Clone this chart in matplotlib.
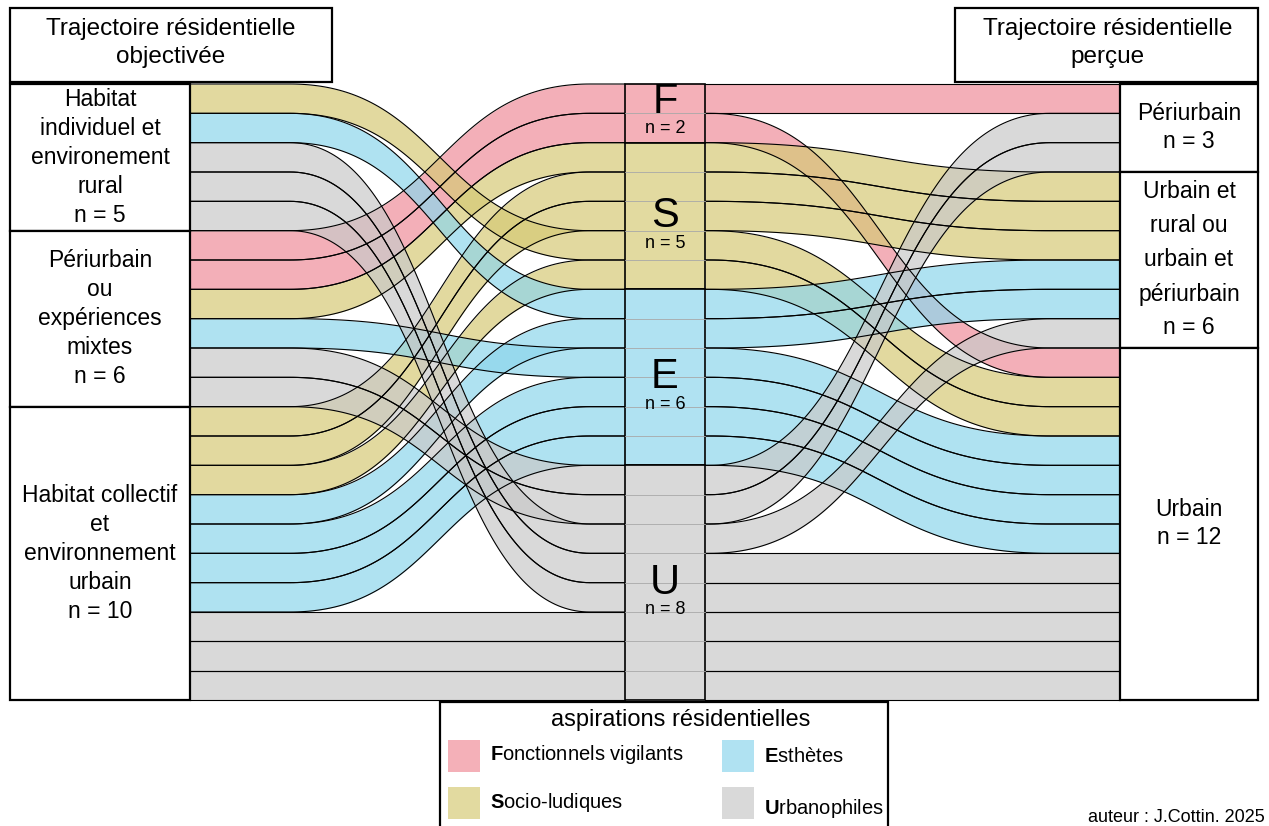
import numpy as np
import matplotlib.pyplot as plt
from matplotlib.patches import Rectangle
from matplotlib.colors import to_rgb

plt.rcParams['font.family'] = ['Liberation Sans', 'DejaVu Sans']
plt.rcParams['mathtext.fontset'] = 'custom'
plt.rcParams['mathtext.rm'] = 'Liberation Sans'
plt.rcParams['mathtext.bf'] = 'Liberation Sans:bold'

# ---- data ----
left_title = "Trajectoire résidentielle\nobjectivée"
right_title = "Trajectoire résidentielle\nperçue"
left_labels = ["Habitat\nindividuel et\nenvironement\nrural",
               "Périurbain\nou\nexpériences\nmixtes",
               "Habitat collectif\net\nenvironnement\nurbain"]
right_labels = ["Périurbain",
                "Urbain et\nrural ou\nurbain et\npériurbain",
                "Urbain"]
asp_codes = ["F", "S", "E", "U"]
asp_names = ["Fonctionnels vigilants", "Socio-ludiques", "Esthètes", "Urbanophiles"]
asp_colors = ["#F4B0B8", "#E2DAA0", "#B0E2F2", "#D9D9D9"]
legend_title = "aspirations résidentielles"
credit = "auteur : J.Cottin. 2025"

# one entry per person: left group, aspiration, right group
ind_asp   = [0, 0,  1, 1, 1, 1, 1,  2, 2, 2, 2, 2, 2,  3, 3, 3, 3, 3, 3, 3, 3]
ind_left  = [1, 1,  0, 1, 2, 2, 2,  0, 1, 2, 2, 2, 2,  1, 1, 0, 0, 0, 2, 2, 2]
ind_right = [0, 2,  2, 1, 1, 1, 2,  1, 2, 1, 2, 2, 2,  0, 0, 1, 2, 2, 2, 2, 2]

# ---- layout ----
TOP, BOT = 84, 700
N = len(ind_asp)
H = (BOT - TOP) / N
ALPHA = 0.7
LB = (10, 190)      # left boxes
MB = (625, 705)     # middle column
RB = (1120, 1258)   # right boxes

idx = range(N)
mid_order = sorted(idx, key=lambda i: (ind_asp[i], ind_right[i], ind_left[i], i))
mid_pos = {i: k for k, i in enumerate(mid_order)}
left_order = sorted(idx, key=lambda i: (ind_left[i], ind_asp[i], mid_pos[i]))
left_pos = {i: k for k, i in enumerate(left_order)}
right_order = sorted(idx, key=lambda i: (ind_right[i], ind_asp[i], mid_pos[i]))
right_pos = {i: k for k, i in enumerate(right_order)}


def base_col(c):
    r = np.array(to_rgb(c))
    return tuple(np.clip((r - (1 - ALPHA)) / ALPHA, 0, 1))


def label(ax, x, yc, txt, step, size):
    lines = txt.split("\n")
    for k, s in enumerate(lines):
        ax.text(x, yc + (k - (len(lines) - 1) / 2) * step, s,
                ha='center', va='center', fontsize=size, zorder=10)


def ribbon(ax, x0, x1, c0, c1, ya, yb, color):
    t = np.linspace(0, 1, 120)
    cm = (c0 + c1) / 2
    xs = (1 - t)**3 * c0 + 3 * (1 - t)**2 * t * cm + 3 * (1 - t) * t**2 * cm + t**3 * c1
    ys = ya + (yb - ya) * (3 * t**2 - 2 * t**3)
    xs = np.r_[x0, xs, x1]
    ys = np.r_[ya, ys, yb]
    ax.fill_between(xs, ys, ys + H, color=base_col(color), alpha=ALPHA, lw=0)
    ax.plot(xs, ys, color='k', lw=0.8)
    ax.plot(xs, ys + H, color='k', lw=0.8)


fig = plt.figure(figsize=(12.69, 8.26), dpi=100)
ax = fig.add_axes([0, 0, 1, 1])
ax.set_xlim(0, 1269)
ax.set_ylim(826, 0)
ax.axis('off')

# ribbons
for i in mid_order:
    col = asp_colors[ind_asp[i]]
    ym = TOP + mid_pos[i] * H
    ribbon(ax, LB[1], MB[0], 290, 590, TOP + left_pos[i] * H, ym, col)
    ribbon(ax, MB[1], RB[0], 710, 1050, ym, TOP + right_pos[i] * H, col)

# middle column
for g, code in enumerate(asp_codes):
    members = [i for i in mid_order if ind_asp[i] == g]
    y0 = TOP + mid_pos[members[0]] * H
    y1 = y0 + len(members) * H
    ax.add_patch(Rectangle((MB[0], y0), MB[1] - MB[0], y1 - y0, facecolor=asp_colors[g],
                           edgecolor='k', lw=1.2, zorder=5))
    for j in range(1, len(members)):
        ax.plot(MB, [y0 + j * H] * 2, color='#a8a8a8', lw=0.6, zorder=6)
    yl = min((y0 + y1) / 2, y1 - 41)
    ax.text((MB[0] + MB[1]) / 2, yl, code, ha='center', va='center', fontsize=30, zorder=10)
    ax.text((MB[0] + MB[1]) / 2, yl + 27, "n = %d" % len(members), ha='center', va='center',
            fontsize=13, zorder=10)

# side boxes
for side, labels, order, pos, box, key in [
        ('L', left_labels, left_order, left_pos, LB, ind_left),
        ('R', right_labels, right_order, right_pos, RB, ind_right)]:
    for g, txt in enumerate(labels):
        members = [i for i in order if key[i] == g]
        y0 = TOP + pos[members[0]] * H
        y1 = y0 + len(members) * H
        ax.add_patch(Rectangle((box[0], y0), box[1] - box[0], y1 - y0, facecolor='white',
                               edgecolor='k', lw=1.6, zorder=8))
        full = txt + "\nn = %d" % len(members)
        step = 29 if side == 'L' else (34 if full.count("\n") > 2 else 28)
        label(ax, (box[0] + box[1]) / 2, (y0 + y1) / 2, full, step, 16.5)

# titles
ax.add_patch(Rectangle((10, 8), 322, 74, facecolor='white', edgecolor='k', lw=1.6, zorder=8))
label(ax, 171, 43, left_title, 29, 17.5)
ax.add_patch(Rectangle((955, 8), 303, 74, facecolor='white', edgecolor='k', lw=1.6, zorder=8))
label(ax, 1108, 43, right_title, 29, 17.5)

# legend
ax.add_patch(Rectangle((440, 702), 448, 140, facecolor='white', edgecolor='k', lw=1.6, zorder=8))
ax.text(681, 720, legend_title, ha='center', va='center', fontsize=17, zorder=10)
leg_xy = [(448, 740), (448, 787), (722, 740), (722, 787)]
leg_dy = [15, 15, 17, 21]
for g, name in enumerate(asp_names):
    px, py = leg_xy[g]
    ax.add_patch(Rectangle((px, py), 32, 32, facecolor=asp_colors[g], edgecolor='none', zorder=9))
    ax.text(px + 42, py + leg_dy[g], r"$\mathbf{%s}$" % name[0] + name[1:], ha='left', va='center',
            fontsize=14.5, zorder=10)

ax.text(1265, 818, credit, ha='right', va='center', fontsize=13, zorder=10)

fig.savefig("out.png", dpi=100)
